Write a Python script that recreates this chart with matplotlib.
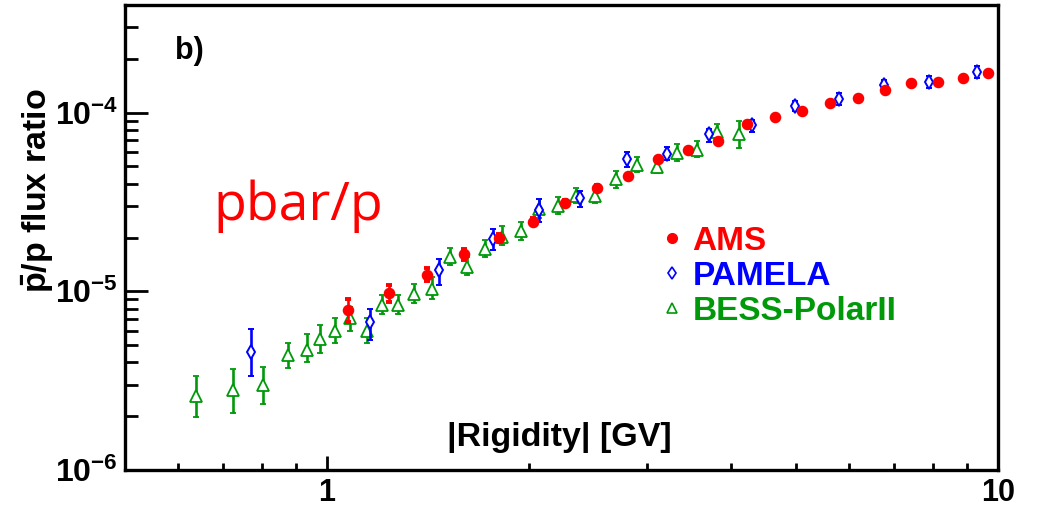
import numpy as np
import matplotlib
matplotlib.use("Agg")
import matplotlib.pyplot as plt
from matplotlib.lines import Line2D
from matplotlib.ticker import FixedLocator, LogLocator, NullFormatter, FuncFormatter

plt.rcParams["font.family"] = ["Liberation Sans", "DejaVu Sans"]
plt.rcParams["mathtext.fontset"] = "custom"
plt.rcParams["mathtext.rm"] = "Liberation Sans:bold"
plt.rcParams["mathtext.bf"] = "Liberation Sans:bold"
plt.rcParams["mathtext.it"] = "Liberation Sans:bold:italic"

# ---- AMS antiproton-to-proton flux ratio -------------------------------
ams_rigidity = [1.074, 1.237, 1.411, 1.602, 1.807, 2.025, 2.266, 2.527, 2.809, 3.117,
                3.456, 3.828, 4.220, 4.653, 5.111, 5.628, 6.183, 6.778, 7.430, 8.126,
                8.857, 9.672]
ams_ratio = [7.84, 9.83, 12.28, 16.16, 20.00, 24.55, 31.32, 38.06, 44.3, 54.9,
             61.6, 69.4, 86.0, 94.4, 102.0, 113.6, 121.1, 133.0, 146.0, 149.2,
             156.5, 166.0]
ams_hi = [9.11, 10.90, 13.50, 17.29, 21.0, 25.6, 32.5, 39.3, 45.6, 56.3,
          63.0, 70.9, 87.7, 96.2, 103.9, 115.6, 123.2, 135.2, 148.4, 151.7,
          159.2, 169.0]
ams_lo = [6.69, 8.68, 11.37, 15.02, 19.0, 23.5, 30.1, 36.8, 43.0, 53.5,
          60.2, 67.9, 84.3, 92.6, 100.1, 111.6, 119.0, 130.8, 143.6, 146.7,
          153.8, 163.0]

# ---- PAMELA ------------------------------------------------------------
pamela_rigidity = [0.771, 1.161, 1.469, 1.769, 2.067, 2.380, 2.802, 3.215, 3.711, 4.299,
                   4.982, 5.790, 6.761, 7.886, 9.293]
pamela_ratio = [4.57, 6.72, 13.09, 19.66, 28.52, 33.14, 54.9, 59.0, 76.3, 84.9,
                108.3, 119.5, 143.0, 149.2, 168.1]
pamela_hi = [6.17, 8.01, 15.15, 22.27, 32.85, 36.53, 59.8, 64.3, 81.4, 91.3,
             115.9, 127.9, 153.1, 160.1, 182.1]
pamela_lo = [3.36, 5.33, 10.80, 16.92, 24.55, 29.75, 49.7, 54.2, 68.5, 77.9,
             101.6, 109.7, 133.8, 138.1, 156.1]

# ---- BESS-Polar II -----------------------------------------------------
bess_rigidity = [0.639, 0.724, 0.802, 0.876, 0.933, 0.975, 1.029, 1.083, 1.148, 1.209,
                 1.274, 1.349, 1.432, 1.525, 1.615, 1.721, 1.826, 1.945, 2.067, 2.207,
                 2.350, 2.512, 2.692, 2.893, 3.099, 3.328, 3.565, 3.819, 4.105]
bess_ratio = [2.58, 2.81, 2.99, 4.38, 4.69, 5.43, 5.96, 7.05, 5.99, 8.43,
              8.43, 9.71, 10.35, 15.54, 13.68, 17.29, 20.25, 21.79, 28.89, 30.14,
              34.26, 34.1, 42.28, 50.8, 49.7, 59.5, 61.6, 77.9, 76.3]
bess_hi = [3.36, 3.66, 3.77, 5.11, 5.74, 6.46, 7.05, 8.18, 7.05, 9.58,
           9.58, 11.04, 12.03, 17.45, 15.54, 19.41, 23.23, 24.36, 32.85, 33.57,
           37.67, 37.67, 47.04, 56.5, 55.4, 66.5, 69.4, 86.7, 89.9]
bess_lo = [1.97, 2.08, 2.34, 3.74, 4.04, 4.54, 5.16, 5.99, 5.11, 7.42,
           7.42, 8.62, 9.07, 14.08, 12.34, 15.46, 18.21, 19.41, 25.64, 27.09,
           31.08, 31.08, 37.67, 46.6, 45.7, 53.7, 56.1, 70.0, 63.6]

ratio_unit = 1e-6  # the ratio columns above are in units of 1e-6

legend_labels = ["AMS", "PAMELA", "BESS-PolarII"]
x_major_ticks = [1, 10]
y_major_ticks = [1e-6, 1e-5, 1e-4]

RED = "#ff0000"
BLUE = "#0000ff"
GREEN = "#00990a"


def as_arrays(val, lo, hi):
    v = np.asarray(val) * ratio_unit
    l = np.asarray(lo) * ratio_unit
    h = np.asarray(hi) * ratio_unit
    return v, np.vstack([v - l, h - v])


fig = plt.figure(figsize=(10.4, 5.05), dpi=100)
ax = fig.add_axes([0.1202, 0.0693, 0.8394, 0.9208])
ax.set_xscale("log")
ax.set_yscale("log")
ax.set_xlim(0.5, 10)
ax.set_ylim(1e-6, 4e-4)

common = dict(linestyle="none", elinewidth=1.9, capsize=2.5, capthick=2.8)

v, e = as_arrays(bess_ratio, bess_lo, bess_hi)
ax.errorbar(bess_rigidity, v, yerr=e, marker="^", markersize=8, mfc="white",
            mec=GREEN, mew=1.3, color=GREEN, zorder=3, **common)

v, e = as_arrays(pamela_ratio, pamela_lo, pamela_hi)
ax.errorbar(pamela_rigidity, v, yerr=e, marker="d", markersize=7.5, mfc="white",
            mec=BLUE, mew=1.4, color=BLUE, zorder=4, **common)

v, e = as_arrays(ams_ratio, ams_lo, ams_hi)
ax.errorbar(ams_rigidity, v, yerr=e, marker="o", markersize=7.3, mfc=RED,
            mec=RED, color=RED, zorder=5, **common)

# axis frame and ticks
for s in ax.spines.values():
    s.set_linewidth(2.4)

ax.xaxis.set_major_locator(FixedLocator(x_major_ticks))
ax.xaxis.set_minor_locator(LogLocator(base=10, subs=np.arange(2, 10)))
ax.xaxis.set_major_formatter(FuncFormatter(lambda x, p: f"{x:g}"))
ax.xaxis.set_minor_formatter(NullFormatter())

ax.yaxis.set_major_locator(FixedLocator(y_major_ticks))
ax.yaxis.set_minor_locator(LogLocator(base=10, subs=np.arange(2, 10)))
ax.yaxis.set_major_formatter(
    FuncFormatter(lambda y, p: r"$\mathbf{10^{%d}}$" % int(round(np.log10(y)))))
ax.yaxis.set_minor_formatter(NullFormatter())

ax.tick_params(axis="both", which="both", direction="in", top=False, right=False, width=2)
ax.tick_params(axis="y", which="major", length=16.5, pad=5, labelsize=23)
ax.tick_params(axis="y", which="minor", length=9)
ax.tick_params(axis="x", which="major", length=10, pad=6, labelsize=22)
ax.tick_params(axis="x", which="minor", length=5)
for lab in ax.get_xticklabels() + ax.get_yticklabels():
    lab.set_fontweight("bold")

# axis titles
ax.set_xlabel("|Rigidity| [GV]", fontsize=24.5, fontweight="bold", ha="left", va="baseline")
ax.xaxis.set_label_coords(0.3688, 0.0516)
ax.set_ylabel(r"$\mathbf{\bar{p}}$/p flux ratio", fontsize=24.5, fontweight="bold",
              ha="center", va="center")
ax.yaxis.set_label_coords(-0.0997, 0.601)

# panel tag and species annotation
ax.text(0.0573, 0.884, "b)", transform=ax.transAxes, fontsize=22, fontweight="bold",
        ha="left", va="baseline")
ax.text(0.1008, 0.5376, "pbar/p", transform=ax.transAxes, fontsize=38.5, color=RED,
        family="Open Sans", ha="left", va="baseline")

# legend
handles = [
    Line2D([], [], linestyle="none", marker="o", markersize=7, mfc=RED, mec=RED),
    Line2D([], [], linestyle="none", marker="d", markersize=6, mfc="white", mec=BLUE, mew=1.2),
    Line2D([], [], linestyle="none", marker="^", markersize=7, mfc="white", mec=GREEN, mew=1.2),
]
leg = ax.legend(handles, legend_labels, loc="upper left", bbox_to_anchor=(0.6174, 0.5258),
                frameon=False, borderpad=0, borderaxespad=0, handlelength=0.5,
                handletextpad=0.35, labelspacing=0.12,
                labelcolor=[RED, BLUE, GREEN],
                prop={"family": "Liberation Sans", "weight": "bold", "size": 24})

fig.savefig("out.png", dpi=100)
